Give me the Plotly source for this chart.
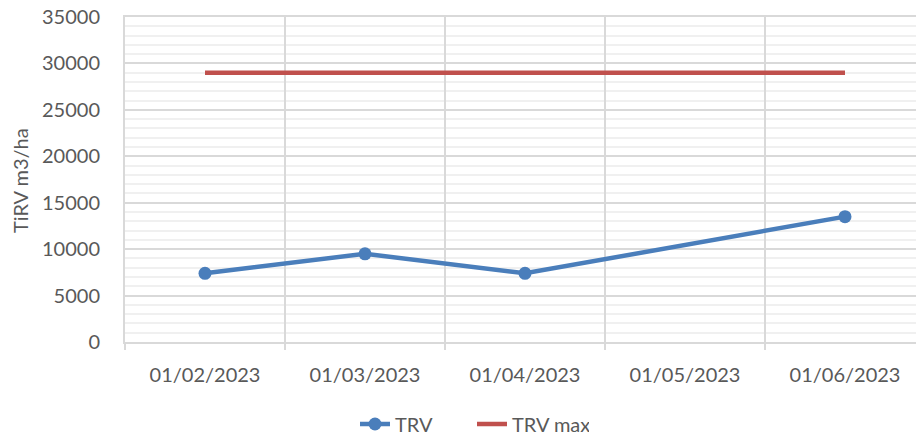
import plotly.graph_objects as go

categories = ["01/02/2023", "01/03/2023", "01/04/2023", "01/05/2023", "01/06/2023"]
trv = [7400, 9500, 7400, None, 13500]
trv_max = [29000, 29000, 29000, 29000, 29000]
y_ticks = [0, 5000, 10000, 15000, 20000, 25000, 30000, 35000]

FONT = "Lato"
GRAY = "#595959"
GRID = "#d9d9d9"
x_idx = list(range(len(categories)))
boundaries = [i - 0.5 for i in range(len(categories))]
x_range = [-0.5, 4.5 - 9 / 160]

W, H = 916, 435
L, R, T = 125, 0, 17
plot_bottom = 342
B = H - plot_bottom
pw = W - L - R
ph = plot_bottom - T

fig = go.Figure()
fig.add_trace(go.Scatter(
    x=x_idx, y=trv, name="TRV", mode="lines+markers",
    connectgaps=True, xaxis="x2",
    line=dict(color="#4A7EBB", width=4.5),
    marker=dict(size=13, color="#4A7EBB"),
))
fig.add_trace(go.Scatter(
    x=x_idx, y=trv_max, name="TRV max", mode="lines",
    line=dict(color="#C0504D", width=4.5),
))

fig.update_layout(
    width=W, height=H,
    margin=dict(l=L, r=R, t=T, b=B, autoexpand=False),
    plot_bgcolor="white", paper_bgcolor="white",
    font=dict(family=FONT, size=20, color=GRAY),
    showlegend=True,
    legend=dict(orientation="h", x=(355 - L) / pw, xanchor="left",
                y=-(424 - plot_bottom) / ph, yanchor="middle",
                font=dict(size=20, color=GRAY),
                entrywidth=72, entrywidthmode="pixels",
                traceorder="normal"),
    xaxis=dict(
        range=x_range,
        tickmode="array", tickvals=boundaries, ticktext=[""] * len(boundaries),
        showgrid=True, gridcolor=GRID, gridwidth=2,
        ticks="outside", ticklen=6, tickcolor=GRID, tickwidth=2,
        zeroline=False, showline=True, mirror=True, linecolor=GRID, linewidth=2,
    ),
    xaxis2=dict(
        range=x_range, overlaying="x", anchor="y", side="bottom",
        tickmode="array", tickvals=x_idx, ticktext=categories,
        showgrid=False, ticks="", zeroline=False, showline=False,
        ticklabelstandoff=19,
        tickfont=dict(size=20, color=GRAY),
    ),
    yaxis=dict(
        range=[0, 35000],
        tickmode="array", tickvals=y_ticks, tickformat="d",
        showgrid=True, gridcolor=GRID, gridwidth=2,
        zeroline=False, showline=True, linecolor=GRID, linewidth=2,
        ticks="", ticklabelstandoff=19, ticklabeloverflow="allow",
        tickfont=dict(size=20, color=GRAY),
        minor=dict(dtick=1000, showgrid=True, gridcolor="#f0f0f0", gridwidth=2),
    ),
    annotations=[dict(
        text="TiRV m3/ha", xref="paper", yref="paper",
        x=(20 - L) / pw, y=(plot_bottom - 180) / ph, xanchor="center", yanchor="middle",
        textangle=-90, showarrow=False, font=dict(size=20, color=GRAY),
    )],
)

# remove the browser's default 8px body margin so the figure fills the window
fig.write_html("out.html", config={"displayModeBar": False},
               post_script="document.body.style.margin='0px';")
